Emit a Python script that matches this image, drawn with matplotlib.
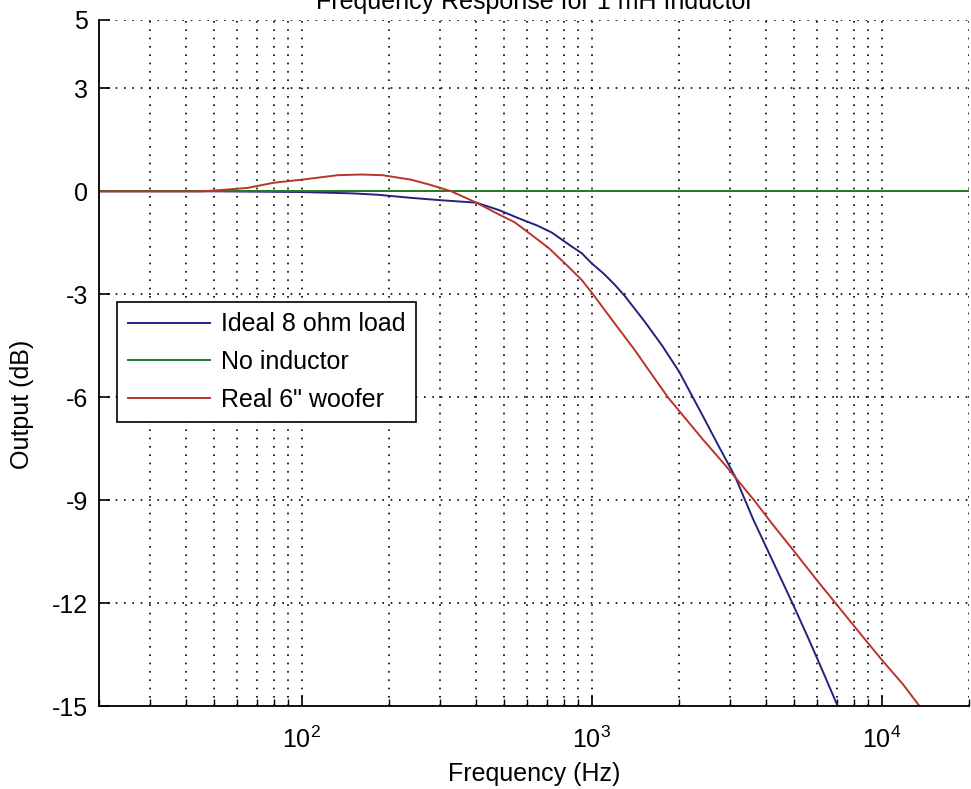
import numpy as np
import matplotlib
matplotlib.use("Agg")
import matplotlib.pyplot as plt
from matplotlib.ticker import LogLocator, FixedLocator, NullFormatter, LogFormatterMathtext

plt.rcParams['font.family'] = ['Liberation Sans', 'DejaVu Sans']
plt.rcParams['mathtext.fontset'] = 'custom'
plt.rcParams['mathtext.rm'] = 'Liberation Sans'
plt.rcParams['mathtext.default'] = 'regular'
plt.rcParams['axes.unicode_minus'] = False

# values
ideal_f = [20, 50, 100, 150, 183, 238, 303, 400, 480, 558, 650, 728, 850, 923, 1000,
           1100, 1200, 1300, 1400, 1524, 1750, 2000, 2400, 2750, 3125, 3600, 4090, 4920, 5500, 6090, 7050]
ideal_db = [0, 0, -0.02, -0.06, -0.1, -0.19, -0.26, -0.33, -0.55, -0.78, -1.0, -1.2, -1.6, -1.8, -2.1,
            -2.4, -2.72, -3.05, -3.4, -3.8, -4.5, -5.25, -6.5, -7.45, -8.32, -9.55, -10.55, -12.0, -12.9, -13.75, -15.0]

noind_f = [20, 20000]
noind_db = [0, 0]

woofer_f = [20, 35, 45, 55, 65, 80, 100, 133, 160, 190, 238, 280, 328, 400, 480, 542, 620, 710,
            820, 923, 1000, 1200, 1400, 1600, 1830, 2400, 2900, 3630, 4200, 5000, 6000, 6930,
            8000, 10000, 11800, 13500]
woofer_db = [0, 0, 0, 0.05, 0.1, 0.25, 0.34, 0.47, 0.49, 0.47, 0.34, 0.18, 0.0, -0.33, -0.68, -0.9,
             -1.27, -1.65, -2.15, -2.58, -2.95, -3.85, -4.6, -5.3, -6.0, -7.2, -8.0, -9.0, -9.7,
             -10.5, -11.35, -12.0, -12.65, -13.65, -14.35, -15.0]

y_ticks = [-15, -12, -9, -6, -3, 0, 3, 5]

fig = plt.figure(figsize=(9.71, 7.89), dpi=100)
ax = fig.add_axes([0.102, 0.105, 0.896, 0.870])

ax.semilogx(ideal_f, ideal_db, color='#23237f', lw=1.4, label='Ideal 8 ohm load')
ax.semilogx(noind_f, noind_db, color='#217a21', lw=1.4, label='No inductor')
ax.semilogx(woofer_f, woofer_db, color='#b8342c', lw=1.4, label='Real 6" woofer')

ax.set_xlim(20, 20000)
ax.set_ylim(-15, 5)
ax.yaxis.set_major_locator(FixedLocator(y_ticks))
ax.set_yticklabels([str(t) for t in y_ticks])
ax.xaxis.set_major_locator(LogLocator(base=10, numticks=10))
ax.xaxis.set_major_formatter(LogFormatterMathtext())
ax.xaxis.set_minor_locator(LogLocator(base=10, subs=np.arange(2, 10), numticks=30))
ax.xaxis.set_minor_formatter(NullFormatter())

dots = (0, (1, 4))
ax.grid(True, which='major', axis='both', color='black', linestyle=dots, lw=1.2)
ax.grid(True, which='minor', axis='x', color='black', linestyle=dots, lw=1.2)

ax.tick_params(which='major', direction='in', length=8, width=1.2, labelsize=18, pad=8)
ax.tick_params(axis='x', which='major', pad=15)
ax.tick_params(which='minor', direction='in', length=5, width=1.0)
for side in ['top', 'right']:
    ax.spines[side].set_visible(False)
for side in ['left', 'bottom']:
    ax.spines[side].set_linewidth(1.3)

ax.set_xlabel('Frequency (Hz)', fontsize=18, labelpad=6)
ax.set_ylabel('Output (dB)', fontsize=18)
ax.yaxis.set_label_coords(-0.075, 0.44)
fig.text(0.551, 0.997, 'Frequency Response for 1 mH Inductor', fontsize=18,
         ha='center', va='center')

leg = ax.legend(loc='upper left', bbox_to_anchor=(0.0207, 0.589), borderaxespad=0,
                fancybox=False, edgecolor='black', framealpha=1, fontsize=18,
                handlelength=3.3, handletextpad=0.45, labelspacing=0.55, borderpad=0.42)
leg.get_frame().set_linewidth(1.2)

fig.savefig('out.png', dpi=100)
